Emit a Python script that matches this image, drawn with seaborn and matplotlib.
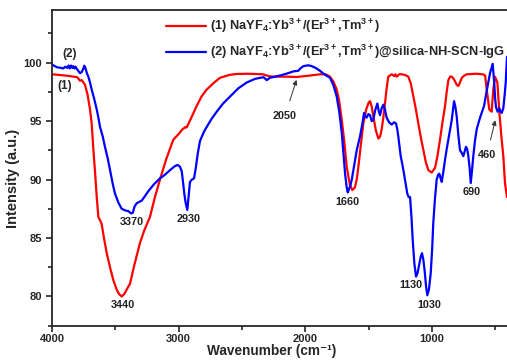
import numpy as np
import pandas as pd
import matplotlib
matplotlib.use("Agg")
import matplotlib.pyplot as plt
import seaborn as sns

# ---------------- data ----------------
red_wn = [4000, 3950, 3900, 3860, 3832, 3800, 3779, 3765, 3755, 3740, 3720, 3700, 3687, 3673,
          3660, 3647, 3634, 3620, 3608, 3590, 3568, 3540, 3516, 3490, 3470, 3450, 3430, 3410,
          3384, 3350, 3305, 3270, 3227, 3190, 3148, 3100, 3043, 3000, 2970, 2945, 2937, 2900,
          2858, 2820, 2779, 2720, 2674, 2600, 2542, 2450, 2335, 2290, 2256, 2150, 2069, 1960,
          1885, 1840, 1806, 1780, 1753, 1733, 1713, 1693, 1674, 1650, 1630, 1610, 1595, 1582,
          1562, 1543, 1520, 1500, 1490, 1478, 1464, 1444, 1424, 1410, 1398, 1385, 1372, 1359,
          1346, 1319, 1300, 1290, 1280, 1260, 1240, 1215, 1188, 1168, 1148, 1128, 1109, 1089,
          1069, 1050, 1030, 1003, 977, 958, 938, 918, 898, 885, 872, 858, 845, 830, 819, 806,
          793, 780, 766, 745, 727, 650, 600, 582, 569, 549, 530, 517, 504, 485, 469, 451, 438,
          425, 409]
red_y = [99.0, 98.95, 98.9, 98.85, 98.8, 98.75, 98.45, 98.5, 98.35, 98.1, 97.3, 96.0, 94.8, 92.5,
         90.6, 88.5, 86.8, 86.5, 86.2, 85.0, 83.7, 82.4, 81.4, 80.6, 80.2, 80.0, 80.2, 80.6,
         81.1, 82.7, 84.6, 85.7, 86.8, 88.4, 90.0, 91.7, 93.4, 93.9, 94.3, 94.5, 94.45, 95.3,
         96.3, 97.1, 97.7, 98.3, 98.7, 98.95, 99.03, 99.05, 99.0, 98.85, 98.8, 98.8, 98.77, 98.9,
         99.0, 99.0, 98.8, 98.4, 97.7, 96.7, 95.1, 93.2, 91.1, 89.6, 89.1, 89.3, 90.0, 91.1,
         93.0, 94.8, 96.0, 96.6, 96.7, 96.3, 95.4, 94.2, 93.5, 93.7, 94.3, 95.3, 96.5, 97.8,
         98.8, 99.0, 98.85, 99.0, 98.8, 99.0, 99.0, 98.95, 98.8, 98.2, 97.1, 96.0, 94.8, 93.6,
         92.5, 91.5, 90.8, 90.6, 91.0, 92.0, 93.4, 94.9, 96.3, 97.5, 98.5, 98.8, 98.8, 98.6, 98.4, 98.1,
         98.0, 98.3, 98.7, 98.9, 99.0, 99.05, 99.0, 98.9, 97.7, 96.0, 95.8, 97.7, 98.8, 98.3, 95.7, 93.4, 92.0,
         89.7, 88.5]

blue_wn = [4000, 3960, 3930, 3911, 3895, 3880, 3870, 3860, 3850, 3840, 3832, 3823, 3815, 3800,
           3779, 3765, 3752, 3745, 3735, 3725, 3713, 3700, 3687, 3667, 3647, 3634, 3621, 3600,
           3582, 3560, 3542, 3520, 3503, 3475, 3450, 3420, 3398, 3375, 3363, 3348, 3332, 3310,
           3292, 3265, 3240, 3195, 3148, 3110, 3069, 3030, 3008, 2990, 2976, 2966, 2956, 2945,
           2932, 2922, 2911, 2895, 2879, 2865, 2850, 2832, 2800, 2779, 2740, 2700, 2650, 2595,
           2530, 2463, 2400, 2358, 2330, 2305, 2280, 2200, 2150, 2095, 2056, 2040, 2016, 1977,
           1950, 1920, 1885, 1850, 1806, 1780, 1753, 1733, 1713, 1700, 1687, 1675, 1666, 1655,
           1645, 1634, 1615, 1595, 1580, 1569, 1550, 1537, 1527, 1516, 1503, 1490, 1477, 1464,
           1450, 1432, 1420, 1411, 1398, 1385, 1372, 1359, 1340, 1319, 1300, 1285, 1275, 1267,
           1257, 1248, 1235, 1222, 1210, 1196, 1185, 1174, 1163, 1153, 1140, 1127, 1115, 1101,
           1090, 1080, 1070, 1059, 1048, 1038, 1025, 1011, 1000, 991, 978, 964, 953, 943, 933,
           924, 911, 898, 885, 872, 858, 845, 835, 827, 816, 806, 793, 780, 767, 754, 743, 733,
           723, 714, 704, 695, 685, 675, 662, 648, 630, 609, 590, 569, 543, 522, 515, 510, 503,
           496, 483, 470, 460, 451, 438, 428, 419, 409]
blue_y = [99.83, 99.6, 99.55, 99.5, 99.65, 99.55, 99.75, 99.5, 99.75, 99.55, 99.7, 99.5, 99.65, 99.4,
          99.1, 99.2, 99.5, 99.74, 99.5, 99.1, 98.8, 98.3, 97.7, 96.9, 96.0, 95.3, 94.5, 93.7,
          92.8, 91.8, 90.8, 89.6, 88.8, 88.0, 87.5, 87.35, 87.3, 87.1, 87.15, 87.7, 87.97, 88.1,
          88.2, 88.6, 89.0, 89.6, 90.1, 90.4, 90.8, 91.15, 91.25, 91.1, 90.7, 89.8, 88.8, 88.0,
          87.4, 88.5, 89.8, 90.0, 90.1, 91.0, 92.2, 93.3, 94.1, 94.5, 95.2, 95.8, 96.5, 97.1,
          97.8, 98.3, 98.6, 98.7, 98.75, 98.5, 98.7, 98.9, 99.05, 99.25, 99.3, 99.5, 99.7, 99.77,
          99.7, 99.55, 99.3, 99.0, 98.7, 98.1, 97.1, 95.8, 94.0, 92.3, 90.5, 89.4, 88.9, 89.2,
          89.5, 90.0, 91.2, 92.5, 93.2, 93.7, 94.8, 95.7, 95.4, 95.3, 95.6, 95.5, 95.0, 95.1,
          95.9, 96.5, 95.8, 95.5, 96.1, 96.4, 96.0, 95.3, 94.9, 94.7, 94.9, 94.8, 94.3, 93.7,
          92.8, 92.0, 91.3, 90.5, 89.7, 88.8, 88.5, 88.5, 86.8, 84.8, 82.8, 81.7, 82.0, 82.8,
          83.4, 83.7, 83.2, 82.2, 80.9, 80.1, 80.6, 82.0, 84.0, 86.25, 88.3, 90.0, 90.4, 90.5, 90.1,
          89.8, 90.7, 91.7, 92.6, 93.4, 94.3, 95.1, 96.0, 96.7, 96.2, 95.4, 93.8, 92.5, 92.3, 92.0, 92.4, 92.8,
          92.6, 92.0, 91.0, 89.7, 90.8, 92.0, 93.3, 94.3, 95.0, 95.7, 96.3, 97.6, 99.1, 99.9, 99.0, 98.3, 97.0,
          96.2, 95.8, 96.1, 95.8, 95.7, 96.1, 97.2, 98.3, 100.5]

labels = ["(1) NaYF$_4$:Yb$^{3+}$/(Er$^{3+}$,Tm$^{3+}$)",
          "(2) NaYF$_4$:Yb$^{3+}$/(Er$^{3+}$,Tm$^{3+}$)@silica-NH-SCN-IgG"]

peak_text = ["3370", "3440", "2930", "1660", "1130", "1030", "690"]
peak_x = [3371, 3442, 2924, 1669, 1169, 1022, 687]
peak_y = [86.4, 79.3, 86.6, 88.05, 81.0, 79.3, 88.96]

# ---------------- style ----------------
sns.set_style("ticks")
plt.rcParams['font.family'] = ['Liberation Sans', 'DejaVu Sans']
plt.rcParams['font.weight'] = 'bold'
plt.rcParams['mathtext.fontset'] = 'custom'
plt.rcParams['mathtext.rm'] = 'Liberation Sans:bold'
plt.rcParams['mathtext.it'] = 'Liberation Sans:bold'
plt.rcParams['mathtext.bf'] = 'Liberation Sans:bold'
plt.rcParams['mathtext.default'] = 'rm'

df = pd.concat([
    pd.DataFrame({"wn": red_wn, "T": red_y, "s": labels[0]}),
    pd.DataFrame({"wn": blue_wn, "T": blue_y, "s": labels[1]}),
])

fig = plt.figure(figsize=(5.07, 3.60), dpi=100)
ax = fig.add_axes([52/507, 1-325.7/360, 1-52/507, (325.7-10)/360])
sns.lineplot(data=df, x="wn", y="T", hue="s", palette=["#ff0000", "#0000ff"],
             sort=False, estimator=None, lw=1.6, ax=ax)

ax.set_xlim(4000, 409)
ax.set_ylim(77.5, 104.5)
ax.set_xticks([4000, 3000, 2000, 1000])
ax.set_xticks([3500, 2500, 1500, 500], minor=True)
ax.set_yticks([80, 85, 90, 95, 100])
ax.set_yticks([77.5, 82.5, 87.5, 92.5, 97.5, 102.5], minor=True)
ax.tick_params(which='major', length=4.5, width=1.2, labelsize=8, direction='out', pad=1.5)
ax.tick_params(which='minor', length=3, width=1.2, direction='out')
ax.tick_params(axis='y', which='major', pad=2.5)
for lab in ax.get_xticklabels() + ax.get_yticklabels():
    lab.set_fontweight('bold')
for sp in ['left', 'bottom', 'top']:
    ax.spines[sp].set_linewidth(1.3)
ax.spines['right'].set_visible(False)

ax.set_xlabel("")
ax.set_ylabel("")
fig.text(272/507, 1-351/360, "Wavenumber (cm\u207b\u00b9)", fontsize=9.8, fontweight='bold',
         ha='center', va='center')
fig.text(13/507, 1-178/360, "Intensity (a.u.)", fontsize=10.5, fontweight='bold',
         ha='center', va='center', rotation=90)

h, l = ax.get_legend_handles_labels()
ax.legend(h, labels, loc='upper left', bbox_to_anchor=(166/507, 1-17/360),
          bbox_transform=fig.transFigure, frameon=False, fontsize=9.3,
          handlelength=3.1, handletextpad=0.3, labelspacing=0.6, borderpad=0, borderaxespad=0)

for t, x, y in zip(peak_text, peak_x, peak_y):
    ax.text(x, y, t, fontsize=7.8, fontweight='bold', color='#222222', ha='center', va='center')

ax.annotate("2050", xy=(2064, 98.75), xytext=(2161, 95.45), fontsize=7.8, fontweight='bold',
            color='#222222', ha='center', va='center',
            arrowprops=dict(arrowstyle='-|>', color='#333333', lw=0.7, mutation_scale=7, shrinkA=5))
ax.annotate("460", xy=(496, 95.3), xytext=(569, 92.1), fontsize=7.8, fontweight='bold',
            color='#222222', ha='center', va='center',
            arrowprops=dict(arrowstyle='-|>', color='#333333', lw=0.7, mutation_scale=7, shrinkA=5))
ax.text(3858, 100.7, "(2)", fontsize=8.5, fontweight='bold', ha='center', va='center')
ax.text(3897, 97.97, "(1)", fontsize=8.5, fontweight='bold', ha='center', va='center')

fig.savefig("out.png", dpi=100)
